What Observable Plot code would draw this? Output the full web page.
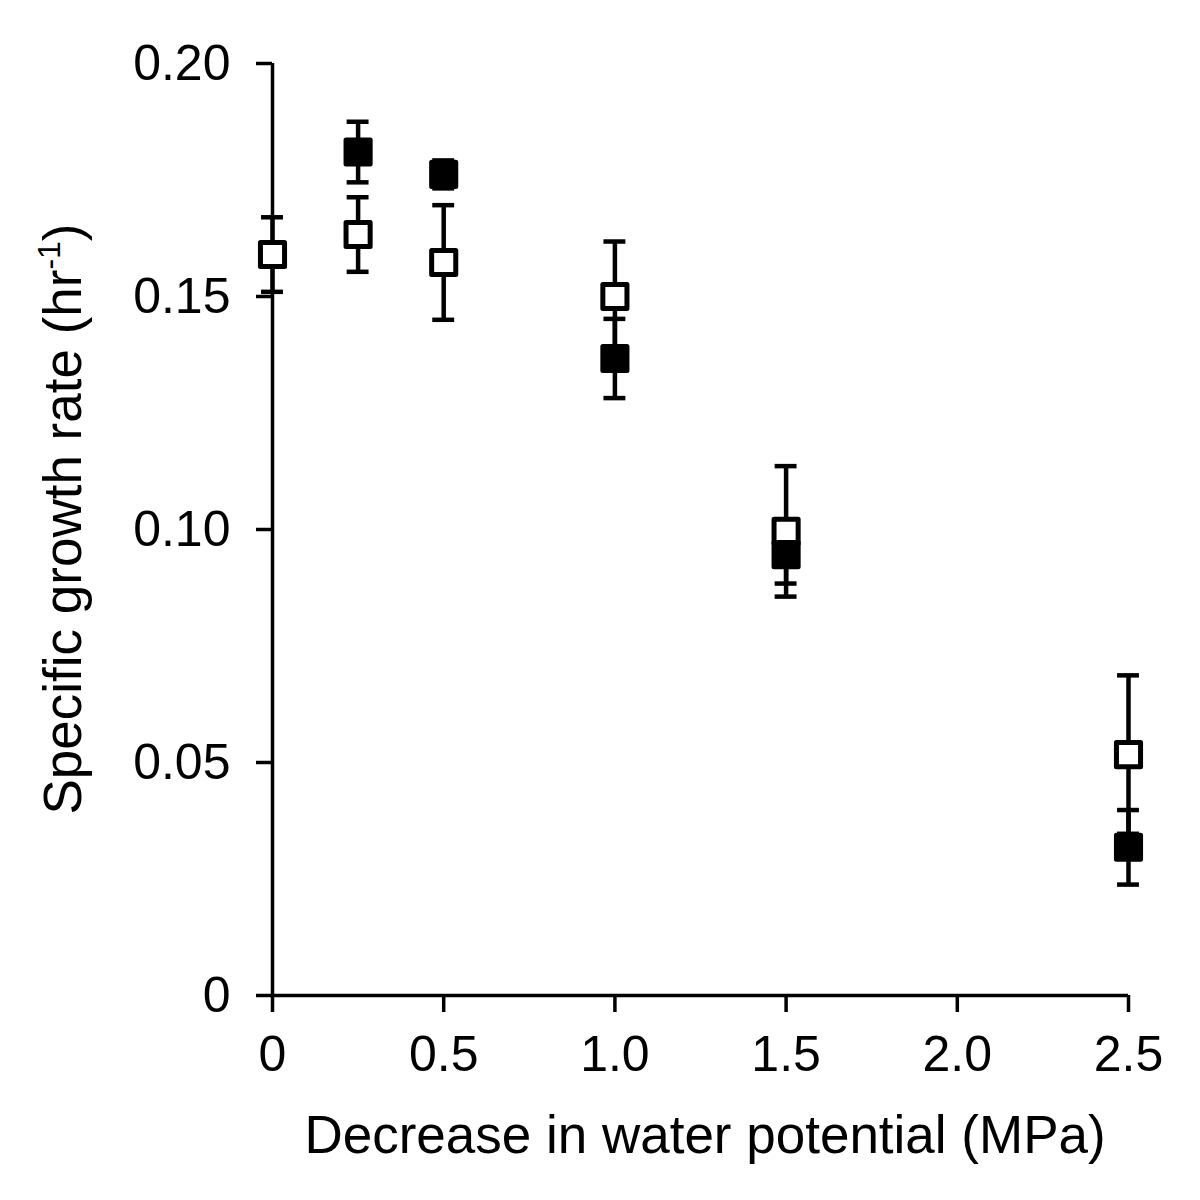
<!DOCTYPE html>
<html><head><meta charset="utf-8">
<script src="https://cdn.jsdelivr.net/npm/d3@7"></script>
<script src="https://cdn.jsdelivr.net/npm/@observablehq/plot@0.6"></script>
<style>body{margin:0;background:#fff}</style>
</head><body><div id="chart"></div>
<script>
// Open squares
const openPotential = [0, 0.25, 0.5, 1.0, 1.5, 2.5];
const openRate = [0.159, 0.1633, 0.1573, 0.150, 0.0996, 0.0517];
const openErr = [0.008, 0.008, 0.0123, 0.0118, 0.014, 0.017];
// Filled squares
const filledPotential = [0.25, 0.5, 1.0, 1.5, 2.5];
const filledRate = [0.181, 0.1762, 0.1367, 0.0946, 0.0318];
const filledErr = [0.0065, 0.003, 0.0085, 0.0062, 0.008];
// Ticks
const xTicks = [0, 0.5, 1.0, 1.5, 2.0, 2.5];
const yTicks = [0, 0.05, 0.10, 0.15, 0.20];
const xTitle = "Decrease in water potential (MPa)";
const yTitle = "Specific growth rate (hr";

const openData = openPotential.map((x, i) => ({x, y: openRate[i], e: openErr[i]}));
const filledData = filledPotential.map((x, i) => ({x, y: filledRate[i], e: filledErr[i]}));
const all = [...openData, ...filledData];
const capHalf = 0.032;
const font = "'Liberation Sans', Arial, Helvetica, sans-serif";

const chart = Plot.plot({
  width: 1200, height: 1200,
  marginTop: 63, marginRight: 72, marginBottom: 205, marginLeft: 272,
  style: {fontFamily: font, background: "white", color: "black"},
  x: {domain: [0, 2.5]},
  y: {domain: [0, 0.2]},
  marks: [
    Plot.axisX({ticks: xTicks, tickFormat: d => d === 0 ? "0" : d3.format(".1f")(d), tickSize: 17, tickPadding: 23, fontSize: 50, strokeWidth: 3.5, label: null}),
    Plot.axisY({ticks: yTicks, tickFormat: d => d === 0 ? "0" : d3.format(".2f")(d), tickSize: 16, tickPadding: 26, fontSize: 50, strokeWidth: 3.5, label: null}),
    Plot.ruleX([0], {stroke: "black", strokeWidth: 3.5}),
    Plot.ruleY([0], {stroke: "black", strokeWidth: 3.5}),
    Plot.ruleX(all, {x: "x", y1: d => d.y - d.e, y2: d => d.y + d.e, stroke: "black", strokeWidth: 4.5}),
    Plot.ruleY(all, {y: d => d.y + d.e, x1: d => d.x - capHalf, x2: d => d.x + capHalf, stroke: "black", strokeWidth: 4.5}),
    Plot.ruleY(all, {y: d => d.y - d.e, x1: d => d.x - capHalf, x2: d => d.x + capHalf, stroke: "black", strokeWidth: 4.5}),
    Plot.dot(openData, {x: "x", y: "y", symbol: "square", r: 13.6, fill: "white", stroke: "black", strokeWidth: 5, strokeLinejoin: "round"}),
    Plot.dot(filledData, {x: "x", y: "y", symbol: "square", r: 13.6, fill: "black", stroke: "black", strokeWidth: 5, strokeLinejoin: "round"})
  ]
});

const svg = d3.select(chart);
const xs = chart.scale("x"), ys = chart.scale("y");
const cx = (xs.apply(0) + xs.apply(2.5)) / 2;
svg.append("text")
  .attr("x", cx + 5).attr("y", 1153)
  .attr("text-anchor", "middle").attr("font-size", 53).attr("font-family", font).attr("fill", "black")
  .text(xTitle);
const cy = (ys.apply(0) + ys.apply(0.2)) / 2 - 10;
const yl = svg.append("text")
  .attr("transform", `translate(81,${cy}) rotate(-90)`)
  .attr("text-anchor", "middle").attr("font-size", 53).attr("font-family", font).attr("fill", "black");
yl.append("tspan").text(yTitle);
yl.append("tspan").attr("font-size", 32).attr("dy", -21).text("-1");
yl.append("tspan").attr("dy", 21).text(")");

document.getElementById("chart").appendChild(chart);
</script>
</body></html>
